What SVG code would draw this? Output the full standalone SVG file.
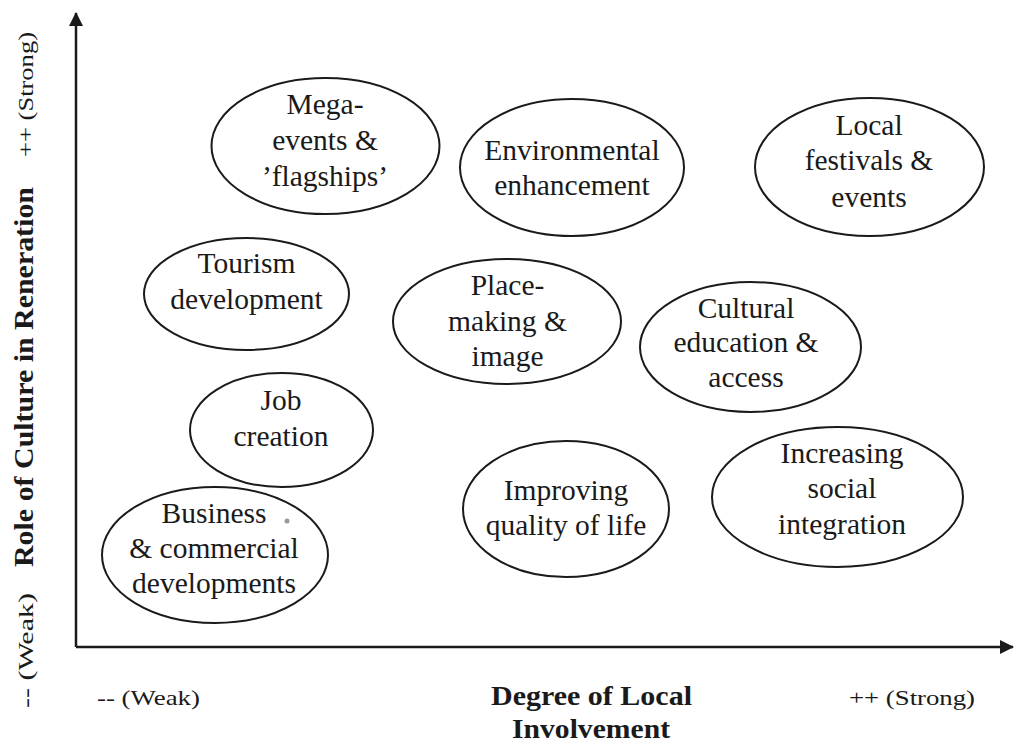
<svg xmlns="http://www.w3.org/2000/svg" width="1036" height="751" viewBox="0 0 1036 751">
<style>
.node ellipse{fill:none;stroke:#1a1a1a;stroke-width:2}
.node text{font-family:"Liberation Serif","Times New Roman",serif;font-size:29.5px;fill:#1a1a1a;text-anchor:middle}
.axis{stroke:#1a1a1a;stroke-width:2.5;fill:none}
.lab{font-family:"Liberation Serif","Times New Roman",serif;fill:#1a1a1a}
.bold{font-weight:bold;font-size:28px}
.small{font-size:21px}
</style>
<defs>
<marker id="arr" viewBox="0 0 14 14" refX="13" refY="7" markerWidth="14" markerHeight="14" markerUnits="userSpaceOnUse" orient="auto">
<path d="M0,0 L14,7 L0,14 Z" fill="#1a1a1a"/>
</marker>
</defs>
<rect width="1036" height="751" fill="#ffffff"/>
<g id="connectors">
<path class="axis" d="M76,647 L76,13" marker-end="url(#arr)"/>
<path class="axis" d="M76,647 L1013,647" marker-end="url(#arr)"/>
</g>
<g id="mega" class="node">
<ellipse cx="325.5" cy="146" rx="114" ry="68"/>
<text x="325" y="114">Mega-</text>
<text x="325" y="150">events &amp;</text>
<text x="325" y="186">’flagships’</text>
</g>
<g id="environmental" class="node">
<ellipse cx="572" cy="167.5" rx="112" ry="68.5"/>
<text x="572" y="160">Environmental</text>
<text x="572" y="195">enhancement</text>
</g>
<g id="local" class="node">
<ellipse cx="869.5" cy="167" rx="114.5" ry="69"/>
<text x="869" y="135">Local</text>
<text x="869" y="170">festivals &amp;</text>
<text x="869" y="207">events</text>
</g>
<g id="tourism" class="node">
<ellipse cx="246.5" cy="294" rx="102.5" ry="56"/>
<text x="246.5" y="273">Tourism</text>
<text x="246.5" y="309">development</text>
</g>
<g id="place" class="node">
<ellipse cx="507" cy="321.5" rx="114" ry="62.5"/>
<text x="507.5" y="295">Place-</text>
<text x="507.5" y="331">making &amp;</text>
<text x="507.5" y="366">image</text>
</g>
<g id="cultural" class="node">
<ellipse cx="750.5" cy="347" rx="110.5" ry="65"/>
<text x="746" y="318">Cultural</text>
<text x="746" y="352">education &amp;</text>
<text x="746" y="387">access</text>
</g>
<g id="job" class="node">
<ellipse cx="281.5" cy="430" rx="91.5" ry="57"/>
<text x="281" y="410">Job</text>
<text x="281" y="446">creation</text>
</g>
<g id="improving" class="node">
<ellipse cx="566" cy="509" rx="103" ry="68"/>
<text x="566" y="500">Improving</text>
<text x="566" y="535">quality of life</text>
</g>
<g id="increasing" class="node">
<ellipse cx="837.5" cy="497" rx="125.5" ry="70"/>
<text x="842" y="463">Increasing</text>
<text x="842" y="498">social</text>
<text x="842" y="534">integration</text>
</g>
<g id="business" class="node">
<ellipse cx="215" cy="555" rx="113" ry="68"/>
<text x="214" y="523">Business</text>
<text x="214" y="558">&amp; commercial</text>
<text x="214" y="593">developments</text>
</g>
<circle cx="287" cy="521" r="2.5" fill="#9a9a9a"/>
<g id="axis-labels">
<text class="lab bold" x="591.5" y="705" text-anchor="middle" textLength="201" lengthAdjust="spacingAndGlyphs">Degree of Local</text>
<text class="lab bold" x="591" y="738" text-anchor="middle" textLength="158" lengthAdjust="spacingAndGlyphs">Involvement</text>
<text class="lab small" x="97" y="705" textLength="103" lengthAdjust="spacingAndGlyphs">-- (Weak)</text>
<text class="lab small" x="849" y="705" textLength="126" lengthAdjust="spacingAndGlyphs">++ (Strong)</text>
<text class="lab bold" transform="translate(33,567) rotate(-90)" textLength="380" lengthAdjust="spacingAndGlyphs">Role of Culture in Reneration</text>
<text class="lab small" transform="translate(33,157) rotate(-90)" textLength="125" lengthAdjust="spacingAndGlyphs">++  (Strong)</text>
<text class="lab small" transform="translate(33,708) rotate(-90)" textLength="115" lengthAdjust="spacingAndGlyphs">-- (Weak)</text>
</g>
</svg>
